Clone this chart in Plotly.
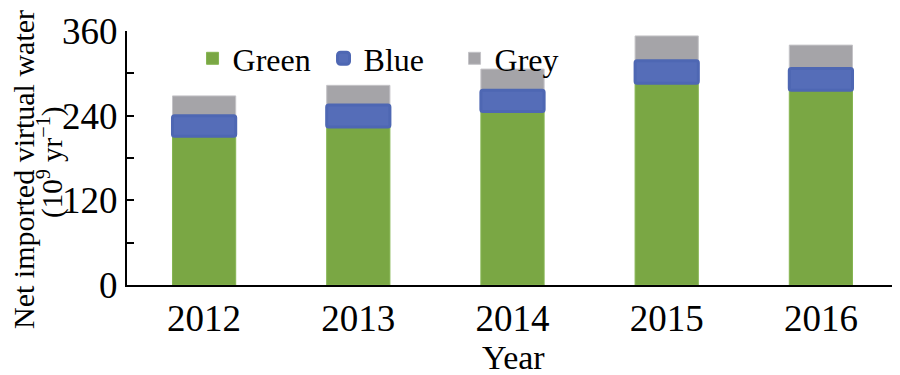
import plotly.graph_objects as go

years = ["2012", "2013", "2014", "2015", "2016"]
green = [211, 224, 246, 286, 276]
blue = [29, 31, 30, 32, 31]
grey = [28, 28, 30, 35, 33]

base_blue = green
base_grey = [g + b for g, b in zip(green, blue)]

FONT = "Liberation Serif"

fig = go.Figure()
fig.add_trace(go.Bar(x=years, y=green, name="Green", width=0.41,
                     marker=dict(color="#7AA744", line=dict(color="#86B552", width=1)),
                     legendrank=1))
fig.add_trace(go.Bar(x=years, y=grey, base=base_grey, name="Grey", width=0.41,
                     marker=dict(color="#A5A4A8", line=dict(color="#C4C3C7", width=1)),
                     legendrank=3))
fig.add_trace(go.Bar(x=years, y=blue, base=base_blue, name="Blue", width=0.41,
                     marker=dict(color="#556DB8", line=dict(color="#4E67B3", width=3),
                                 cornerradius=2),
                     legendrank=2))

# page body adds an 8px offset: figure is 892x367 so that it fills the 900x375 window
fig.update_layout(
    width=892, height=367,
    barmode="overlay",
    plot_bgcolor="white", paper_bgcolor="white",
    margin=dict(l=119, r=2, t=23, b=90, autoexpand=False),
    font=dict(family=FONT, color="black"),
    showlegend=True,
    legend=dict(orientation="h", x=0.085, y=1.0, xanchor="left", yanchor="top",
                bgcolor="rgba(0,0,0,0)",
                entrywidth=86, entrywidthmode="pixels", traceorder="normal"),
    legend_font_family=FONT,
    legend_font_size=32,
    legend_font_color="black",
    xaxis=dict(showline=True, linecolor="black", linewidth=2, ticks="",
               tickfont=dict(family=FONT, size=37), showgrid=False),
    yaxis=dict(range=[0, 360], tickvals=[0, 120, 240, 360], showline=True,
               linecolor="black", linewidth=2, ticks="inside", ticklen=7, tickwidth=2,
               tickcolor="black",
               minor=dict(tickvals=[60, 180, 300], ticks="inside", ticklen=7,
                          tickwidth=2, tickcolor="black"),
               tickfont=dict(family=FONT, size=37), showgrid=False, zeroline=False),
)

fig.add_annotation(text="Net imported virtual water", xref="paper", yref="paper",
                   x=(23 - 127) / 771, y=(285 - 170) / 254, xanchor="center", yanchor="middle",
                   textangle=-90, showarrow=False, borderpad=0, font=dict(family=FONT, size=30))
fig.add_annotation(text="(10<sup>9</sup> yr<sup>−1</sup>)", xref="paper", yref="paper",
                   x=(50 - 127) / 771, y=(285 - 162) / 254, xanchor="center", yanchor="middle",
                   textangle=-90, showarrow=False, borderpad=0, font=dict(family=FONT, size=29))
fig.add_annotation(text="Year", xref="paper", yref="paper",
                   x=(513 - 127) / 771, y=-(357 - 285) / 254, xanchor="center", yanchor="middle",
                   showarrow=False, font=dict(family=FONT, size=34))

fig.write_html("out.html")
